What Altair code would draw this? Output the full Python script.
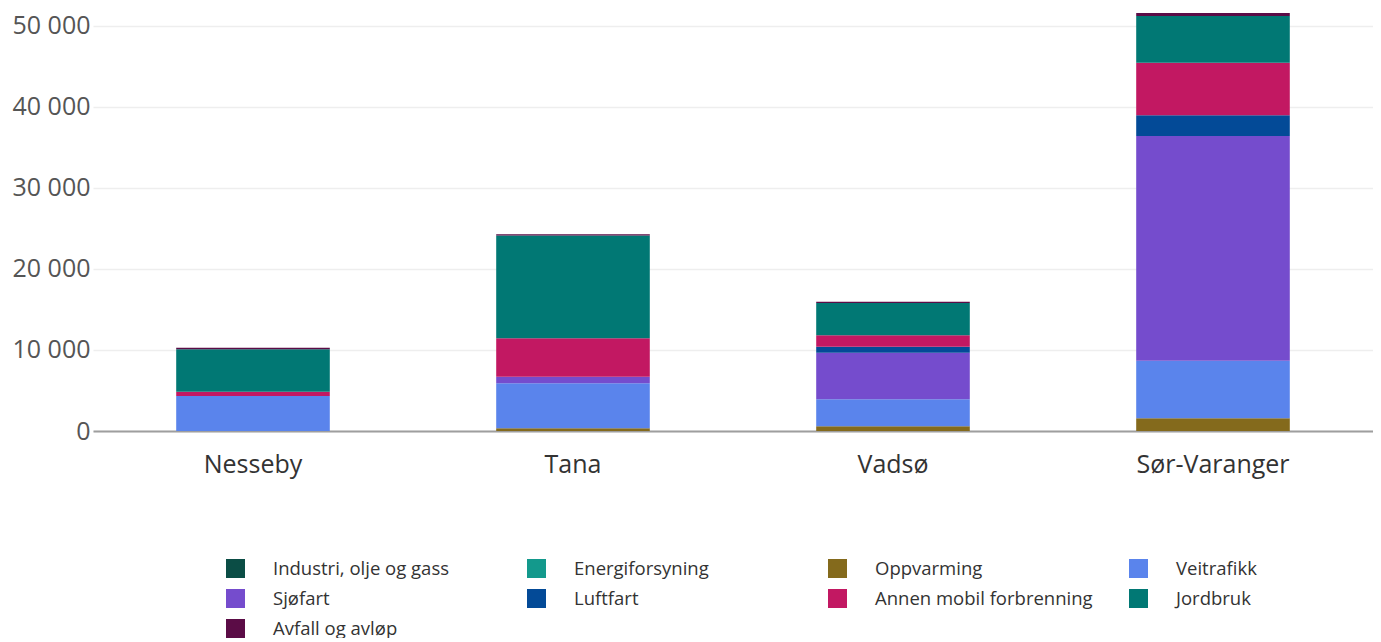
import altair as alt
import pandas as pd

kommuner = ["Nesseby", "Tana", "Vadsø", "Sør-Varanger"]
sektorer = ["Industri, olje og gass", "Energiforsyning", "Oppvarming", "Veitrafikk",
            "Sjøfart", "Luftfart", "Annen mobil forbrenning", "Jordbruk", "Avfall og avløp"]
farger = ["#0b4d45", "#13998c", "#846a1c", "#5a84ec", "#754ccd", "#034a97", "#c21862", "#017874", "#5b0c46"]

industri = [0, 0, 0, 0]
energi = [0, 0, 0, 0]
oppvarming = [0, 330, 580, 1560]
veitrafikk = [4320, 5560, 3330, 7120]
sjofart = [0, 820, 5760, 27740]
luftfart = [0, 0, 740, 2550]
annen = [530, 4730, 1400, 6500]
jordbruk = [5230, 12680, 3990, 5760]
avfall = [200, 170, 160, 370]

serier = [industri, energi, oppvarming, veitrafikk, sjofart, luftfart, annen, jordbruk, avfall]

rows = []
for si, (navn, verdier) in enumerate(zip(sektorer, serier)):
    for k, v in zip(kommuner, verdier):
        rows.append({"kommune": k, "sektor": navn, "verdi": v, "rekkefolge": si})
df = pd.DataFrame(rows)

chart = alt.Chart(df).mark_bar().encode(
    x=alt.X("kommune:N", sort=kommuner, title=None,
            scale=alt.Scale(paddingInner=0.52, paddingOuter=0.26),
            axis=alt.Axis(labelAngle=0, labelFontSize=25, labelColor="#333333",
                          labelFont="Open Sans", labelPadding=21, ticks=False,
                          domainColor="#9e9e9e", domainWidth=2, grid=False)),
    y=alt.Y("verdi:Q", stack="zero", title=None,
            scale=alt.Scale(domain=[0, 51850], nice=False),
            axis=alt.Axis(values=[0, 10000, 20000, 30000, 40000, 50000],
                          labelExpr="replace(format(datum.value, ','), ',', ' ')",
                          labelFontSize=25, labelColor="#555555", labelFont="Open Sans",
                          labelPadding=3, ticks=False, domain=False,
                          gridColor="#eeeeee", gridWidth=1.5)),
    color=alt.Color("sektor:N", sort=sektorer,
                    scale=alt.Scale(domain=sektorer, range=farger),
                    legend=alt.Legend(title=None, orient="none", legendX=133, legendY=548,
                                      direction="horizontal",
                                      columns=4, gridAlign="all", columnPadding=36,
                                      rowPadding=11, symbolType="square", symbolSize=361,
                                      symbolStrokeWidth=0, labelFontSize=18.5,
                                      labelFont="Open Sans", labelColor="#333333",
                                      labelOffset=28, labelLimit=400)),
    order=alt.Order("rekkefolge:Q", sort="ascending"),
).properties(
    width=1280, height=420,
    padding={"left": 4, "top": 3, "right": 0, "bottom": 0},
).configure_view(stroke=None)

chart.save("out.html", embed_options={"renderer": "svg", "actions": False})
